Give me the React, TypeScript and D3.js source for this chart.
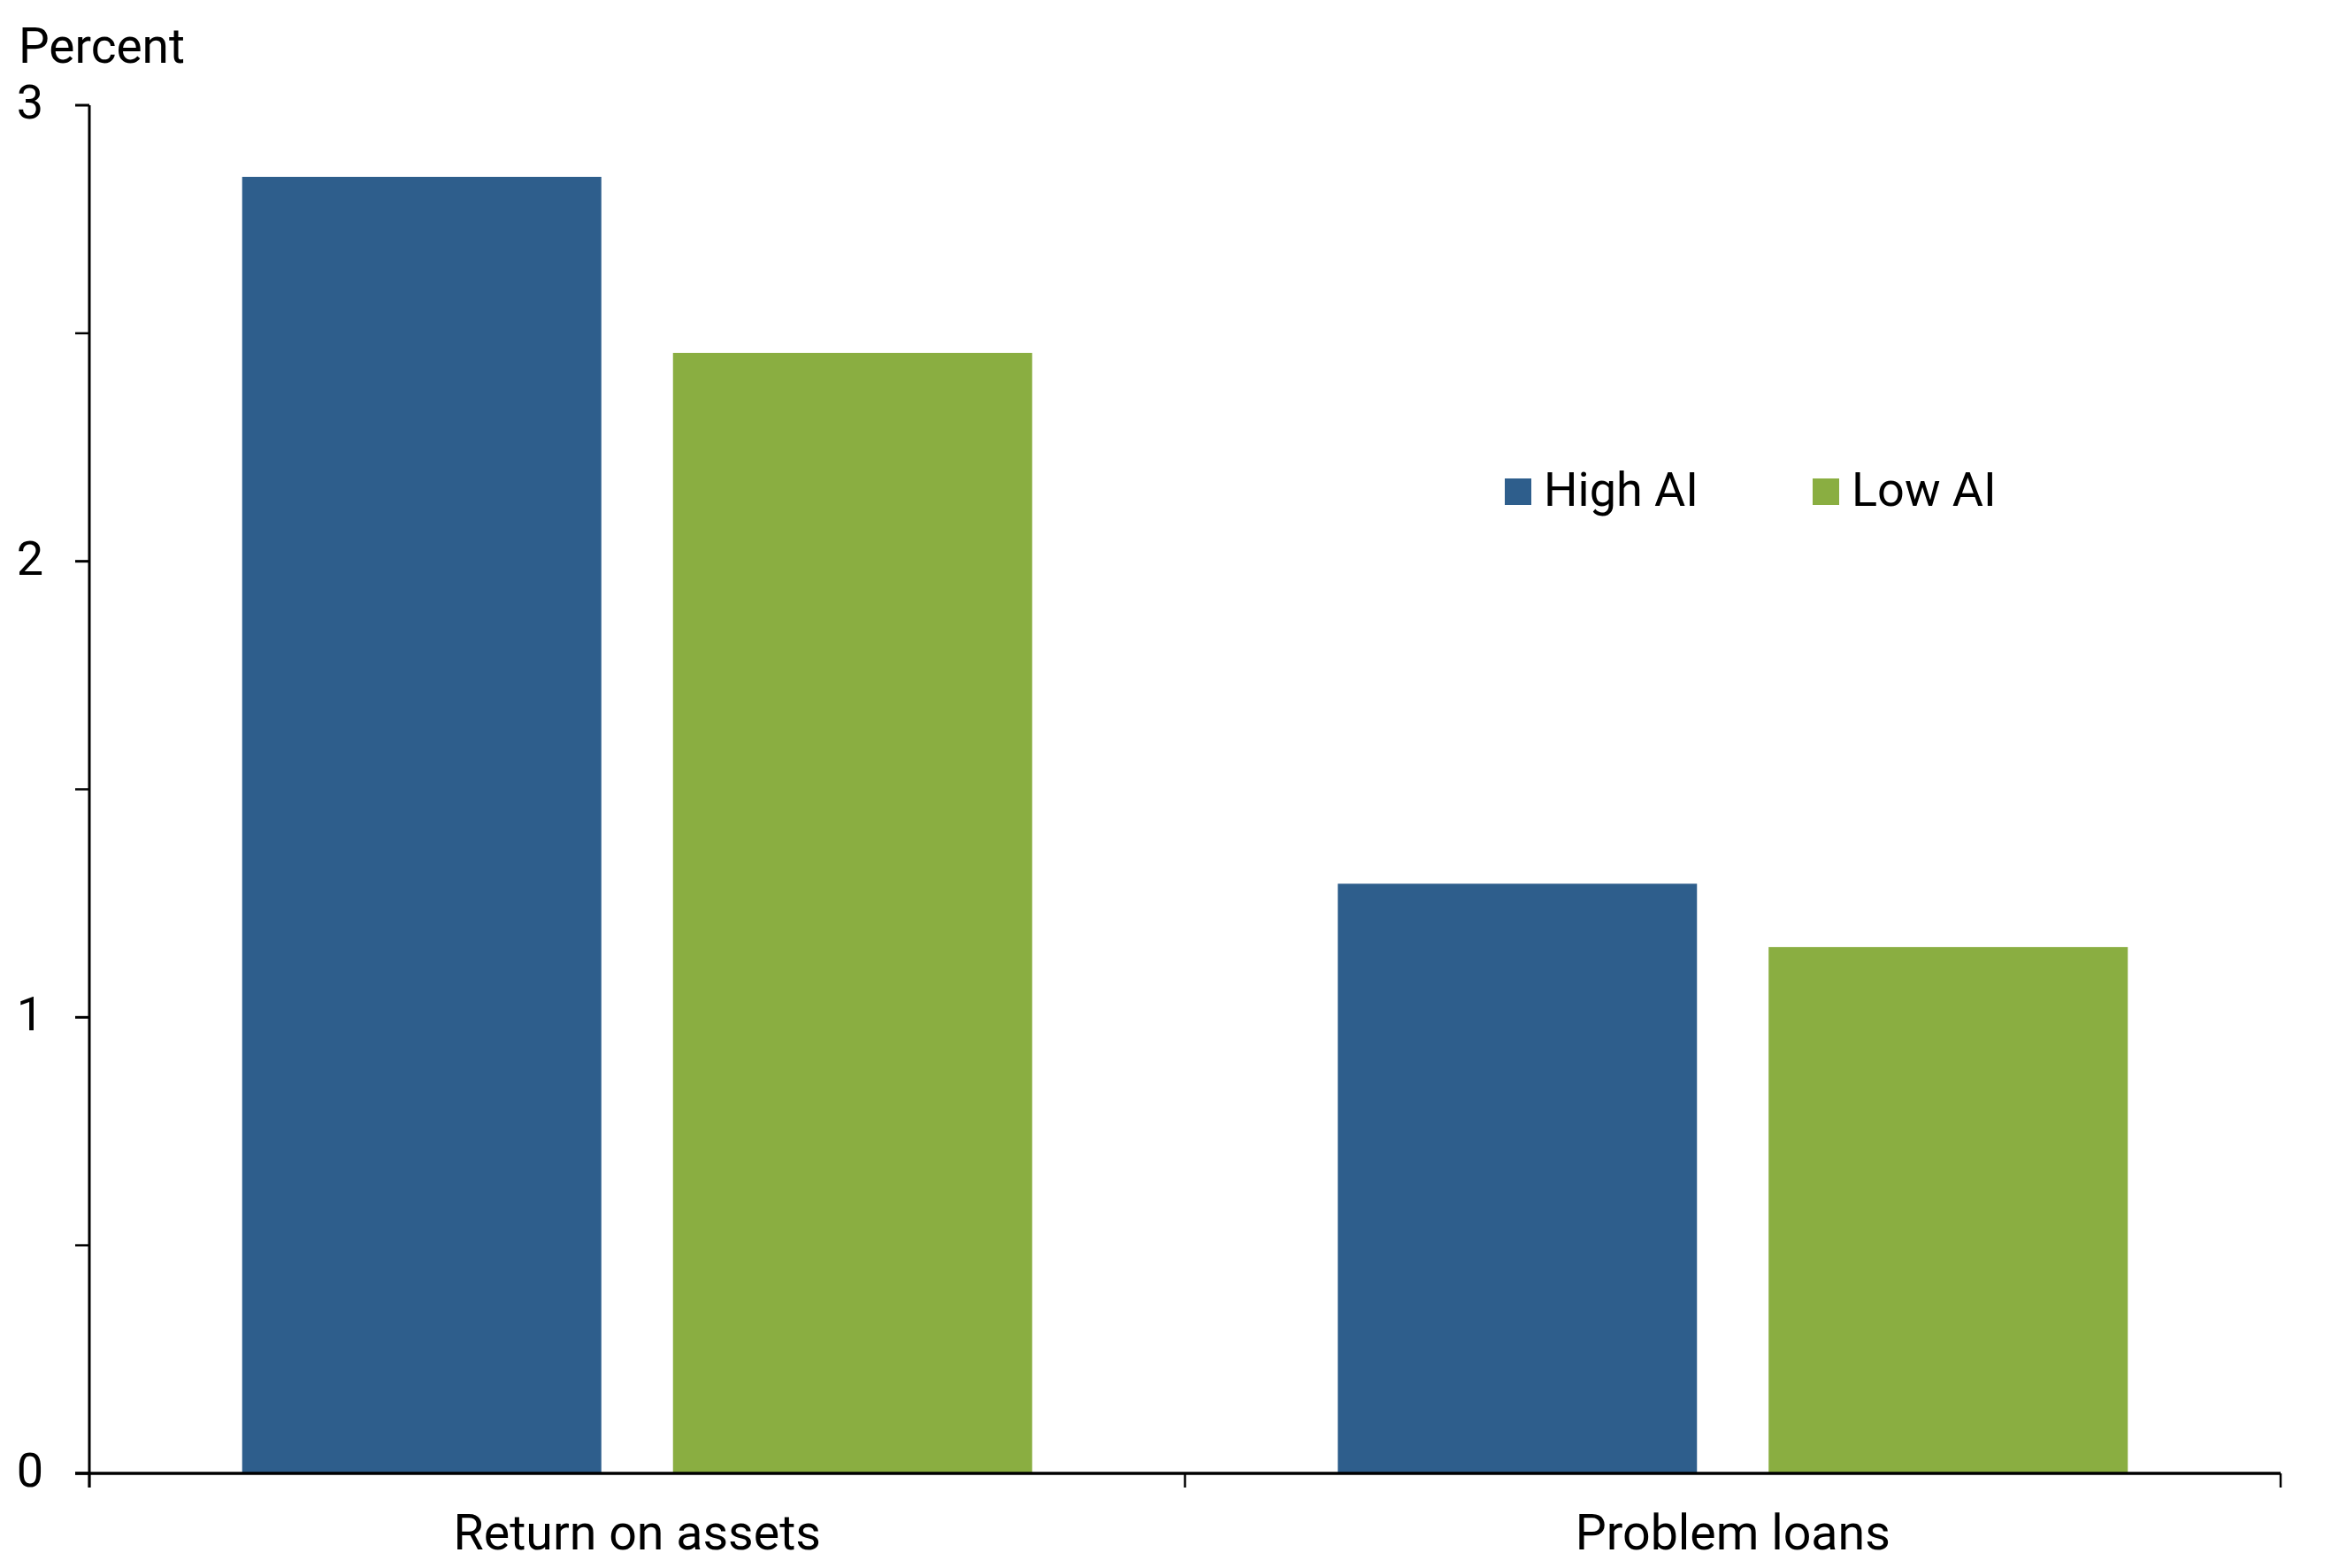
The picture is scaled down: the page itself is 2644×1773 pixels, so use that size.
import * as d3 from "d3";

const categories = ["Return on assets", "Problem loans"];
const seriesNames = ["High AI", "Low AI"];
const highAI = [2.843, 1.293];
const lowAI = [2.457, 1.154];
const majorTicks = [0, 1, 2, 3];
const minorTicks = [0.5, 1.5, 2.5];

const colors = ["#2e5e8c", "#8aae41"];

const W = 2644;
const H = 1773;
const margin = { top: 119, right: 66, bottom: 107, left: 101 };
const FONT = "Roboto, 'Noto Sans', sans-serif";

function App() {
  const innerW = W - margin.left - margin.right;
  const innerH = H - margin.top - margin.bottom;

  const y = d3.scaleLinear().domain([0, 3]).range([innerH, 0]);

  const x0 = d3.scaleBand().domain(categories).range([0, innerW]).padding(0);

  const x1 = d3
    .scaleBand()
    .domain(seriesNames)
    .range([0, x0.bandwidth()])
    .paddingInner(0.1663)
    .paddingOuter(0.3547);

  const values = [highAI, lowAI];
  const tickLen = 16;

  return (
    <svg
      width={W}
      height={H}
      style={{ position: "absolute", left: 0, top: 0, background: "#fff" }}
      fontFamily={FONT}
    >
      <text x={21} y={71} fontSize={55} fill="#000">
        Percent
      </text>
      <g transform={`translate(${margin.left},${margin.top})`}>
        {/* bars */}
        {categories.map((c, ci) => (
          <g key={c} transform={`translate(${x0(c)},0)`}>
            {seriesNames.map((s, si) => (
              <rect
                key={s}
                x={x1(s)}
                y={y(values[si][ci])}
                width={x1.bandwidth()}
                height={innerH - y(values[si][ci])}
                fill={colors[si]}
              />
            ))}
          </g>
        ))}

        {/* y axis */}
        <line x1={0} x2={0} y1={0} y2={innerH + tickLen} stroke="#000" strokeWidth={3} />
        {majorTicks.map((t) => (
          <g key={t}>
            <line x1={-tickLen} x2={0} y1={y(t)} y2={y(t)} stroke="#000" strokeWidth={3} />
            <text x={-52} y={y(t) + 15} fontSize={54} textAnchor="end" fill="#000">
              {t}
            </text>
          </g>
        ))}
        {minorTicks.map((t) => (
          <line key={t} x1={-tickLen} x2={0} y1={y(t)} y2={y(t)} stroke="#000" strokeWidth={2.5} />
        ))}

        {/* x axis */}
        <line x1={-tickLen} x2={innerW} y1={innerH} y2={innerH} stroke="#000" strokeWidth={3.5} />
        {[...categories.map((c) => x0(c)), innerW].map((xv, i) => (
          <line
            key={i}
            x1={xv}
            x2={xv}
            y1={innerH}
            y2={innerH + tickLen}
            stroke="#000"
            strokeWidth={2.5}
          />
        ))}
        {categories.map((c) => (
          <text
            key={c}
            x={x0(c) + x0.bandwidth() / 2}
            y={innerH + 86}
            fontSize={55.5}
            textAnchor="middle"
            fill="#000"
          >
            {c}
          </text>
        ))}
      </g>

      {/* legend */}
      {seriesNames.map((s, i) => {
        const lx = 1701 + i * 348;
        return (
          <g key={s}>
            <rect x={lx} y={541} width={30} height={30} fill={colors[i]} />
            <text x={lx + 44} y={572} fontSize={54} fill="#000">
              {s}
            </text>
          </g>
        );
      })}
    </svg>
  );
}

export default App;
